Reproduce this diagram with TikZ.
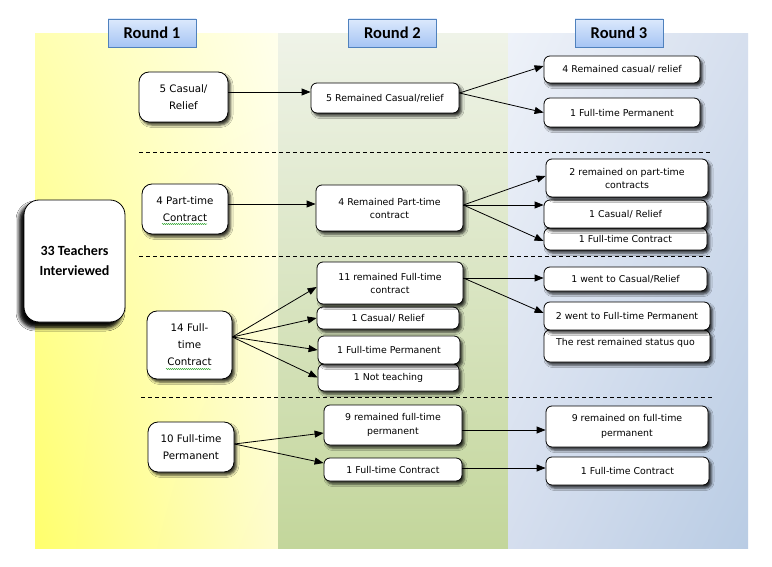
\documentclass[tikz,border=0pt]{standalone}
\usepackage{fontspec}
\setmainfont{DejaVu Sans}
\newfontfamily\hdfont{Carlito}
\usetikzlibrary{shadows.blur,arrows.meta,decorations.pathmorphing,calc,shadings}
\definecolor{c1ul}{RGB}{255,255,176}
\definecolor{c1ll}{RGB}{255,255,108}
\definecolor{c1ur}{RGB}{255,255,236}
\definecolor{c1lr}{RGB}{254,252,205}
\definecolor{c2t}{RGB}{239,243,232}
\definecolor{c2b}{RGB}{195,214,155}
\definecolor{c3ul}{RGB}{238,242,249}
\definecolor{c3ur}{RGB}{214,223,238}
\definecolor{c3ll}{RGB}{213,222,238}
\definecolor{c3lr}{RGB}{185,204,228}
\definecolor{hdrtop}{RGB}{220,233,252}
\definecolor{hdrbot}{RGB}{165,196,244}
\definecolor{hdrborder}{RGB}{79,129,189}
\definecolor{spell}{RGB}{60,170,60}
\begin{document}
\begin{tikzpicture}[x=1pt,y=-1pt,
  box/.style={draw=black, line width=0.8pt, fill=white, rounded corners=6pt,
    inner sep=0pt, align=center, font=\fontsize{9.4}{13}\selectfont,
    blur shadow={shadow xshift=2.5pt, shadow yshift=-3pt, shadow blur radius=2.5pt, shadow opacity=80}},
  rbox/.style={box, rounded corners=10pt, font=\fontsize{10.3}{17}\selectfont},
  hdr/.style={draw=hdrborder, line width=0.8pt, top color=hdrtop, bottom color=hdrbot,
    minimum width=88pt, minimum height=28pt, inner sep=0pt,
    font=\hdfont\bfseries\fontsize{16.5}{18}\selectfont},
  arr/.style={-{Triangle[length=9pt,width=7pt]}, line width=0.8pt},
  sepline/.style={line width=0.8pt, dash pattern=on 4pt off 3pt},
  spelling/.style={spell, line width=0.5pt, decorate, decoration={snake, amplitude=0.6pt, segment length=2pt}}
]
\useasboundingbox[fill=white] (0,0) rectangle (772,567);
% column backgrounds
\shade[upper left=c1ul, upper right=c1ur, lower left=c1ll, lower right=c1lr] (35,34) rectangle (278,548);
\shade[top color=c2t, bottom color=c2b] (278,34) rectangle (508,548);
\shade[upper left=c3ul, upper right=c3ur, lower left=c3ll, lower right=c3lr] (508,34) rectangle (748,548);
% headers
\node[hdr] (h1) at (152,33) {Round 1};
\node[hdr] (h2) at (392.5,33) {Round 2};
\node[hdr] (h3) at (619,33) {Round 3};
% separators
\draw[sepline] (139,152) -- (710,152);
\draw[sepline] (139,256) -- (710,256);
\draw[sepline] (141,397) -- (712,397);
% main node
\node[box, rounded corners=15pt, minimum width=101pt, minimum height=122pt,
  font=\hdfont\bfseries\fontsize{14}{20}\selectfont,
  blur shadow={shadow xshift=-4pt, shadow yshift=-5pt, shadow blur radius=4pt, shadow opacity=85}]
  (t33) at (74.5,261) {33 Teachers\\Interviewed};
% round 1
\node[rbox, minimum width=89pt, minimum height=50pt] (r1a) at (183.5,97) {5 Casual/\\Relief};
\node[rbox, minimum width=86pt, minimum height=50pt] (r1b) at (185,209) {4 Part-time\\Contract};
\node[rbox, minimum width=85pt, minimum height=68pt] (r1c) at (189.5,345) {14 Full-\\time\\Contract};
\node[rbox, minimum width=86pt, minimum height=50pt] (r1d) at (191,447) {10 Full-time\\Permanent};
\draw[spelling] ($(r1b.center)+(-23,15)$) -- ++(45,0);
\draw[spelling] ($(r1c.center)+(-23.5,24)$) -- ++(45,0);
% round 2
\node[box, minimum width=148pt, minimum height=30pt] (r2a) at (385,98) {5 Remained Casual/relief};
\node[box, minimum width=147pt, minimum height=46pt] (r2b) at (389.5,208) {4 Remained Part-time\\contract};
\node[box, minimum width=141pt, minimum height=27pt] (r2f) at (388.5,377.5) {1 Not teaching};
\node[box, minimum width=142pt, minimum height=28pt] (r2e) at (389,350) {1 Full-time Permanent};
\node[box, minimum width=142pt, minimum height=22pt] (r2d) at (388,318) {1 Casual/ Relief};
\node[box, minimum width=146pt, minimum height=42pt] (r2c) at (390,283) {11 remained Full-time\\contract};
\node[box, minimum width=138pt, minimum height=40pt, font=\fontsize{9.4}{14}\selectfont] (r2g) at (393,425) {9 remained full-time\\permanent};
\node[box, minimum width=138pt, minimum height=23pt] (r2h) at (393,469.5) {1 Full-time Contract};
% round 3
\node[box, minimum width=156pt, minimum height=27pt] (r3a) at (622,69.5) {4 Remained casual/ relief};
\node[box, minimum width=156pt, minimum height=29pt] (r3b) at (622,112.5) {1 Full-time Permanent};
\node[box, minimum width=163pt, minimum height=22pt] (r3e) at (625.5,239) {1 Full-time Contract};
\node[box, minimum width=163pt, minimum height=28pt] (r3d) at (625.5,214) {1 Casual/ Relief};
\node[box, minimum width=162pt, minimum height=38pt] (r3c) at (627,178) {2 remained on part-time\\contracts};
\node[box, minimum width=163pt, minimum height=24pt] (r3f) at (625.5,279) {1 went to Casual/Relief};
\node[box, minimum width=166pt, minimum height=32pt] (r3h) at (627,346) {};
\node[anchor=west, inner sep=0pt, font=\fontsize{9.4}{13}\selectfont] (r3ht) at (556,343) {The rest remained status quo};
\node[box, minimum width=166pt, minimum height=28pt] (r3g) at (627,316) {2 went to Full-time Permanent};
\node[box, minimum width=162pt, minimum height=41pt, font=\fontsize{9.4}{15}\selectfont] (r3i) at (627,426.5) {9 remained on full-time\\permanent};
\node[box, minimum width=163pt, minimum height=28pt] (r3j) at (627.5,471) {1 Full-time Contract};
% arrows
\coordinate (s1) at ([yshift=5pt]r1a.east);
\draw[arr] (s1) -- (s1 -| r2a.west);
\coordinate (s2) at ([yshift=5pt]r2a.east);
\draw[arr] (s2) -- ([yshift=3.5pt]r3a.west);
\draw[arr] (s2) -- (r3b.west);
\coordinate (s3) at ([yshift=5pt]r1b.east);
\draw[arr] (s3) -- (s3 -| r2b.west);
\coordinate (s4) at ([yshift=3pt]r2b.east);
\draw[arr] (s4) -- ([yshift=2pt]r3c.west);
\draw[arr] (s4) -- (s4 -| r3d.west);
\draw[arr] (s4) -- ([yshift=-2pt]r3e.west);
\coordinate (s5) at ([yshift=8pt]r1c.east);
\draw[arr] (s5) -- ([yshift=-4pt]r2c.west);
\draw[arr] (s5) -- (r2d.west);
\draw[arr] (s5) -- (r2e.west);
\draw[arr] (s5) -- (r2f.west);
\coordinate (s6) at ([yshift=5pt]r2c.east);
\draw[arr] (s6) -- (s6 -| r3f.west);
\draw[arr] (s6) -- ([yshift=3pt]r3g.west);
\coordinate (s7) at ([yshift=3pt]r1d.east);
\draw[arr] (s7) -- ([yshift=-8pt]r2g.west);
\draw[arr] (s7) -- ([yshift=6.5pt]r2h.west);
\coordinate (s8) at ([yshift=-5pt]r2g.east);
\draw[arr] (s8) -- (s8 -| r3i.west);
\coordinate (s9) at ([yshift=1.5pt]r2h.east);
\draw[arr] (s9) -- (s9 -| r3j.west);
\end{tikzpicture}
\end{document}
